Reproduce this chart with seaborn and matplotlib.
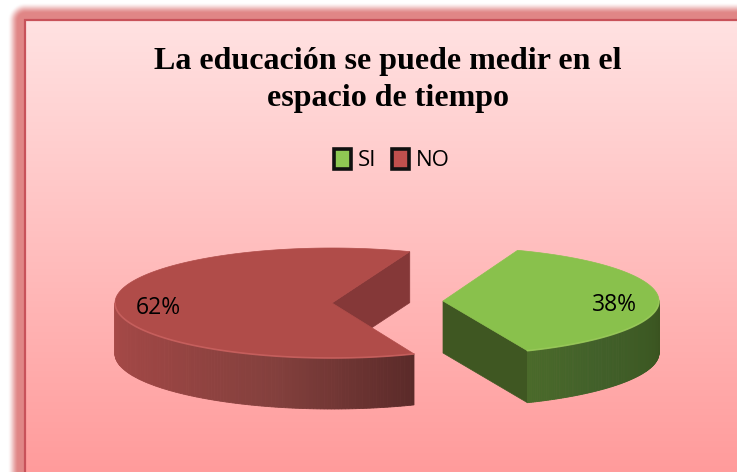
import numpy as np
import seaborn as sns
import matplotlib.pyplot as plt
from matplotlib.patches import Patch

sns.set_theme(style="white")

# chart data
title = "La educación se puede medir en el\nespacio de tiempo"
categories = ["SI", "NO"]
values = [38, 62]
labels = ["38%", "62%"]

W, H = 737, 472
top_colors = ["#89c14c", "#b04c49"]
cut_colors = ["#3f5722", "#853838"]
wall_colors = [["#4a6a2a", "#41602a", "#3d5a24", "#3a5320"],
               ["#a84a48", "#9a4543", "#83403d", "#5a2a29"]]
rim_colors = ["#9ccb5c", "#cc6462"]
centers = [(443, 301), (332, 303)]
radii = [(216, 54), (217, 55)]
depths = [52, 51]
start_angles = [-67.0, 69.0]
label_pos = [(614, 305), (158, 308)]

fig = plt.figure(figsize=(W / 100, H / 100), dpi=100)
ax = fig.add_axes([0, 0, 1, 1])

# background: pink gradient panel with a soft shadow round it
panel_left, panel_top = 25, 20
yy, xx = np.mgrid[0:H, 0:W]
top_rgb = np.array([255, 226, 226]) / 255
bottom_rgb = np.array([255, 155, 155]) / 255
frac = np.clip((yy - panel_top) / (H - panel_top), 0, 1)[..., None]
bg = top_rgb + (bottom_rgb - top_rgb) * frac
dx = np.clip(panel_left - xx, 0, None)
dy = np.clip(panel_top - yy, 0, None)
dist = np.hypot(dx, dy)
shade = np.clip((18 - dist) / 11, 0, 1)
shade = shade * shade * (3 - 2 * shade)
shadow_rgb = np.array([224, 134, 134]) / 255
outside = (dist > 0)[..., None]
shadow = 1 + (shadow_rgb - 1) * shade[..., None]
bg = np.where(outside, shadow, bg)
ax.imshow(bg, extent=(0, W, H, 0), aspect="auto", zorder=0, interpolation="bilinear")
ax.plot([W, panel_left, panel_left], [panel_top, panel_top, H], color="#c8525a", lw=1.6, zorder=1,
        solid_joinstyle="miter")

ax.set_xlim(0, W)
ax.set_ylim(H, 0)
ax.axis("off")


def rim(cx, cy, r, angles):
    t = np.radians(angles)
    return cx + r[0] * np.cos(t), cy - r[1] * np.sin(t)


# slices, drawn counter-clockwise from their start angle
for i, v in enumerate(values):
    cx, cy = centers[i]
    r = radii[i]
    depth = depths[i]
    sweep = v / sum(values) * 360
    arc = np.linspace(start_angles[i], start_angles[i] + sweep, 240)
    x, y = rim(cx, cy, r, arc)

    # flat wall of the cut that faces the viewer
    ex, ey = rim(cx, cy, r, np.array([arc[0]]))
    ax.fill([cx, ex[0], ex[0], cx], [cy, ey[0], ey[0] + depth, cy + depth],
            color=cut_colors[i], lw=0.5, zorder=2 + i)

    # curved outer wall, only the front half shows
    front = arc[np.sin(np.radians(arc)) < 0.01]
    pal = sns.blend_palette(wall_colors[i], n_colors=len(front))
    fx, fy = rim(cx, cy, r, front)
    for k in range(len(front) - 1):
        ax.fill([fx[k], fx[k + 1], fx[k + 1], fx[k]],
                [fy[k], fy[k + 1], fy[k + 1] + depth, fy[k] + depth],
                color=pal[k], lw=0.6, zorder=2 + i)

    # top face
    ax.fill(np.r_[cx, x], np.r_[cy, y], color=top_colors[i], lw=0.5, zorder=2.5 + i)
    ax.plot(fx, fy, color=rim_colors[i], lw=1.2, zorder=2.6 + i, alpha=0.8)
    ax.text(label_pos[i][0], label_pos[i][1], labels[i], ha="center", va="center",
            fontsize=16.5, family="Open Sans", color="black", zorder=6)

ax.text(388, 80, title, ha="center", va="center", fontsize=23, fontweight="bold",
        family="Liberation Serif", color="black", linespacing=1.33, zorder=6)

handles = [Patch(facecolor=c, edgecolor="#111111", linewidth=2.6) for c in ["#8fc853", "#c0504d"]]
leg = ax.legend(handles, categories, loc="center", bbox_to_anchor=(392 / W, 1 - 160 / H), ncol=2,
                frameon=False, handlelength=0.78, handleheight=1.0, handletextpad=0.3,
                columnspacing=0.7, labelcolor="black", prop={"family": "Open Sans", "size": 16})
leg.set_zorder(6)

fig.savefig("out.png", dpi=100)
